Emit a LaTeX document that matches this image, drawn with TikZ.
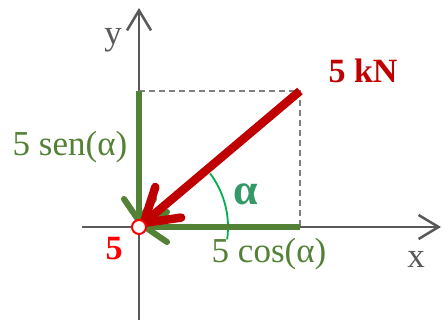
\documentclass[tikz,border=0pt]{standalone}
\usepackage{fontspec}
\setmainfont{Liberation Serif}
\usetikzlibrary{arrows.meta,calc}
\definecolor{axisgray}{HTML}{595959}
\definecolor{dashgray}{HTML}{808080}
\definecolor{compgreen}{HTML}{538135}
\definecolor{forcered}{HTML}{C00000}
\definecolor{brightred}{HTML}{FF0000}
\definecolor{arcgreen}{HTML}{00B050}
\definecolor{alphagreen}{HTML}{339966}
\begin{document}
\begin{tikzpicture}[x=1pt,y=1pt,
  axisline/.style={draw=axisgray, line width=2.5pt,
    -{Straight Barb[length=20pt,width=24pt,line width=2.5pt]}},
  dashline/.style={draw=dashgray, line width=1.6pt, dash pattern=on 6pt off 4pt},
  comparrow/.style={draw=compgreen, line width=6pt, shorten >=3pt,
    -{Straight Barb[length=22pt,width=30pt,line width=6pt,round]}},
  forcearrow/.style={draw=forcered, line width=8.5pt, shorten >=2pt,
    -{Straight Barb[length=32pt,width=40pt,line width=8.5pt,round]}},
  anglearc/.style={draw=arcgreen, line width=1.8pt},
  lbl/.style={inner sep=0pt, anchor=base, font=\fontsize{35}{40}\selectfont},
  lblbold/.style={lbl, font=\fontsize{34}{40}\selectfont\bfseries}
]
\fill[white] (0,0) rectangle (443,320);
\useasboundingbox (0,0) rectangle (443,320);
% key points
\coordinate (O) at (139,93);
\coordinate (A) at (139,229);
\coordinate (P) at (300,229);
\coordinate (B) at (300,93);
\coordinate (ybot) at (139,0);
\coordinate (ytop) at (139,312);
\coordinate (xleft) at (82,93);
\coordinate (xright) at (441,93);
% axes
\draw[axisline] (ybot) -- (ytop);
\draw[axisline] (xleft) -- (xright);
% dashed rectangle sides
\draw[dashline] (A) -- (P) -- (B);
% angle arc
\draw[anglearc] ($(O)+(-8:89pt)$) arc[start angle=-8, end angle=37, radius=89pt];
% components
\draw[comparrow] (A) -- (O);
\draw[comparrow] (B) -- (O);
% force
\draw[forcearrow] (P) -- (O);
% point
\node[circle, draw=brightred, fill=white, line width=2pt, minimum size=14pt, inner sep=0pt] (o) at (O) {};
% labels
\node[lbl, text=axisgray] (ylab) at (113,275) {y};
\node[lbl, text=axisgray] (xlab) at (416,52) {x};
\node[lblbold, text=forcered] (force) at (363,237) {5 kN};
\node[lbl, text=compgreen] (sen) at (70,164) {5 sen(α)};
\node[lbl, text=compgreen] (cos) at (269,57) {5 cos(α)};
\node[lblbold, text=brightred] (five) at (114,60) {5};
\node[lblbold, text=alphagreen, font=\fontsize{44}{48}\selectfont\bfseries] (alpha) at (245.5,115) {α};
\end{tikzpicture}
\end{document}
